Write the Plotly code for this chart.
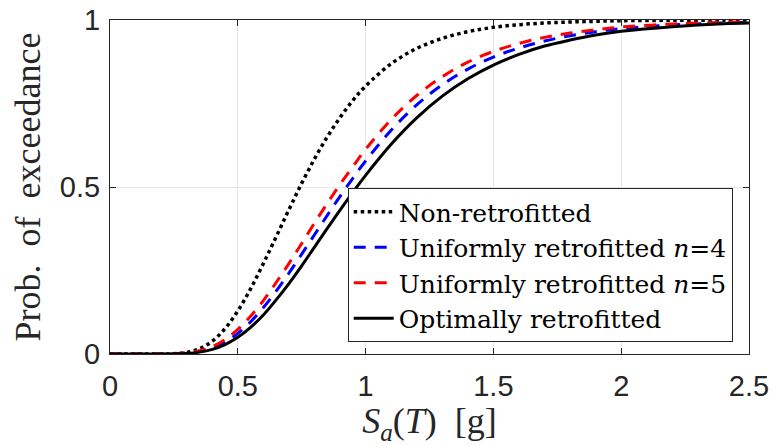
import plotly.graph_objects as go

sa = [0, 0.1, 0.2, 0.25, 0.3, 0.35, 0.4, 0.45, 0.5, 0.55, 0.6, 0.65, 0.7, 0.75, 0.8, 0.85,
      0.9, 0.95, 1.0, 1.1, 1.2, 1.3, 1.4, 1.5, 1.6, 1.7, 1.8, 1.9, 2.0, 2.2, 2.4, 2.5]

p_non = [0, 0, 0.0001, 0.0009, 0.0048, 0.0157, 0.0384, 0.076, 0.129, 0.195, 0.271, 0.351,
         0.432, 0.511, 0.584, 0.650, 0.708, 0.759, 0.802, 0.869, 0.915, 0.945, 0.965, 0.978,
         0.986, 0.991, 0.994, 0.996, 0.998, 0.999, 0.9995, 0.9997]
p_n4 = [0, 0, 0.0001, 0.0005, 0.0024, 0.0075, 0.0179, 0.0356, 0.0617, 0.0964, 0.139, 0.188,
        0.242, 0.299, 0.357, 0.415, 0.472, 0.526, 0.578, 0.670, 0.746, 0.806, 0.853, 0.889,
        0.916, 0.937, 0.953, 0.965, 0.974, 0.985, 0.991, 0.993]
p_n5 = [0, 0, 0.0001, 0.0007, 0.0032, 0.0096, 0.0223, 0.0434, 0.0736, 0.113, 0.160, 0.214,
        0.271, 0.331, 0.392, 0.451, 0.508, 0.561, 0.613, 0.702, 0.774, 0.830, 0.874, 0.906,
        0.930, 0.948, 0.961, 0.971, 0.979, 0.988, 0.993, 0.995]
p_opt = [0, 0, 0.0, 0.0004, 0.0017, 0.0056, 0.0138, 0.0283, 0.0501, 0.0799, 0.117, 0.162,
         0.211, 0.264, 0.320, 0.376, 0.431, 0.484, 0.535, 0.628, 0.707, 0.772, 0.824, 0.865,
         0.897, 0.922, 0.940, 0.955, 0.966, 0.980, 0.989, 0.991]

names = ["Non-retrofitted", "Uniformly retrofitted <i>n</i>=4",
         "Uniformly retrofitted <i>n</i>=5", "Optimally retrofitted"]
x_ticks = [0, 0.5, 1, 1.5, 2, 2.5]
x_labels = ["0", "0.5", "1", "1.5", "2", "2.5"]
y_ticks = [0, 0.5, 1]
y_labels = ["0", "0.5", "1"]

series = [
    (p_non, names[0], dict(color="black", width=3.5, dash="dot")),
    (p_n4, names[1], dict(color="#0000ff", width=3, dash="12px,9px")),
    (p_n5, names[2], dict(color="#ff0000", width=3, dash="12px,9px")),
    (p_opt, names[3], dict(color="black", width=3, dash="solid")),
]

fig = go.Figure()
for ys, nm, ln in series:
    fig.add_trace(go.Scatter(x=sa, y=ys, mode="lines", name=nm, line=dict(shape="spline", **ln)))

axis_common = dict(
    showline=True, linecolor="#262626", linewidth=1, mirror="ticks",
    ticks="inside", ticklen=6, tickcolor="#262626", automargin=False,
    showgrid=True, gridcolor="#e6e6e6", gridwidth=1, zeroline=False,
    tickfont=dict(family="Liberation Sans", size=29, color="#262626"),
)

fig.update_layout(
    width=773, height=446,
    margin=dict(l=110, r=24, t=20, b=92),
    paper_bgcolor="white", plot_bgcolor="white",
    xaxis=dict(range=[0, 2.5], tickvals=x_ticks, ticktext=x_labels, ticklabelstandoff=6,
               title=dict(text="<i>S</i><sub><i>a</i></sub>(<i>T</i>)\u00a0\u00a0[g]",
                          font=dict(family="Liberation Serif", size=36, color="#262626"),
                          standoff=6),
               **axis_common),
    yaxis=dict(range=[0, 1], tickvals=y_ticks, ticktext=y_labels, ticklabelstandoff=3,
               title=dict(text="Prob.\u00a0\u00a0of\u00a0\u00a0exceedance",
                          font=dict(family="Liberation Serif", size=36, color="#262626"),
                          standoff=8),
               **axis_common),
    legend=dict(x=0.372, y=0.497, xanchor="left", yanchor="top",
                bgcolor="white", bordercolor="#262626", borderwidth=1,
                font=dict(family="DejaVu Serif", size=25, color="black"),
                tracegroupgap=0, itemwidth=40),
    showlegend=True,
)

fig.write_html("out.html")
